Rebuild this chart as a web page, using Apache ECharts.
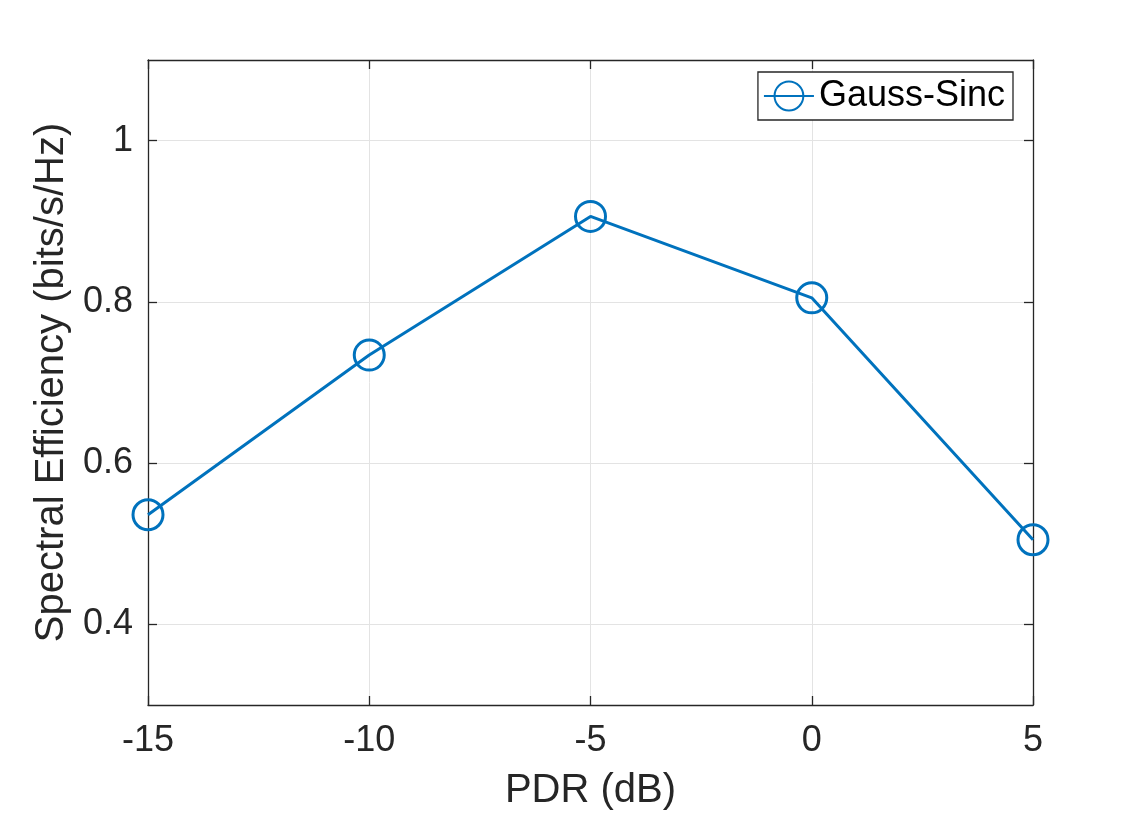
<!DOCTYPE html>
<html><head><meta charset="utf-8">
<script src="https://cdn.jsdelivr.net/npm/echarts@6/dist/echarts.min.js"></script>
<style>html,body{margin:0;padding:0;background:#fff;overflow:hidden}#c{width:1142px;height:816px}</style>
</head><body><div id="c"></div>
<script>
const pdr = [-15, -10, -5, 0, 5];
const gaussSinc = [0.536, 0.734, 0.906, 0.805, 0.505];
const yTicks = [0.4, 0.6, 0.8, 1.0];
const seriesName = 'Gauss-Sinc';
const xTitle = 'PDR (dB)';
const yTitle = 'Spectral Efficiency (bits/s/Hz)';

const font = 'Liberation Sans, Arial, Helvetica, sans-serif';
const axisColor = '#262626';
const blue = '#0072BD';
const chart = echarts.init(document.getElementById('c'));
const baseAxis = {
  axisLine: {show: true, onZero: false, lineStyle: {color: axisColor, width: 1.3}},
  axisTick: {show: true, inside: true, length: 9, lineStyle: {color: axisColor, width: 1.3}},
};
const yTickCfg = {show: true, inside: true, length: 9, customValues: yTicks, lineStyle: {color: axisColor, width: 1.3}};
chart.setOption({
  animation: false,
  backgroundColor: '#fff',
  grid: {left: 148, top: 60, right: 109, bottom: 108, show: false},
  legend: {
    show: true, right: 129, top: 72, orient: 'vertical',
    backgroundColor: '#fff', borderColor: axisColor, borderWidth: 1.3,
    padding: [6, 8, 6, 5], itemWidth: 50, itemHeight: 36, itemGap: 0,
    textStyle: {fontFamily: font, fontSize: 36, lineHeight: 36, color: '#000'},
    data: [seriesName]
  },
  xAxis: [
    Object.assign({}, baseAxis, {
      type: 'value', min: -15, max: 5, interval: 5, position: 'bottom',
      name: xTitle, nameLocation: 'middle', nameGap: 66,
      nameTextStyle: {fontFamily: font, fontSize: 40, color: axisColor},
      axisLabel: {fontFamily: font, fontSize: 36, color: axisColor, margin: 18},
      splitLine: {show: true, lineStyle: {color: '#e3e3e3', width: 1}}
    }),
    Object.assign({}, baseAxis, {
      type: 'value', min: -15, max: 5, interval: 5, position: 'top',
      axisLabel: {show: false}, splitLine: {show: false}
    })
  ],
  yAxis: [
    Object.assign({}, baseAxis, {
      type: 'value', min: 0.3, max: 1.1, position: 'left',
      name: yTitle, nameLocation: 'middle', nameGap: 59,
      nameTextStyle: {fontFamily: font, fontSize: 40, color: axisColor},
      axisTick: yTickCfg,
      axisLabel: {fontFamily: font, fontSize: 36, color: axisColor, margin: 15,
        customValues: yTicks,
        formatter: v => (Math.abs(v - 1) < 1e-9 ? '1' : Number(v).toFixed(1))},
      splitLine: {show: true, lineStyle: {color: '#e3e3e3', width: 1}}
    }),
    Object.assign({}, baseAxis, {
      type: 'value', min: 0.3, max: 1.1, position: 'right',
      axisTick: yTickCfg,
      axisLabel: {show: false}, splitLine: {show: false}
    })
  ],
  series: [{
    name: seriesName, type: 'line',
    data: pdr.map((x, i) => [x, gaussSinc[i]]),
    symbol: 'circle', symbolSize: 30, showAllSymbol: true,
    lineStyle: {color: blue, width: 3},
    itemStyle: {color: 'rgba(255,255,255,0)', borderColor: blue, borderWidth: 3},
    clip: false, z: 5
  }]
});
</script></body></html>
